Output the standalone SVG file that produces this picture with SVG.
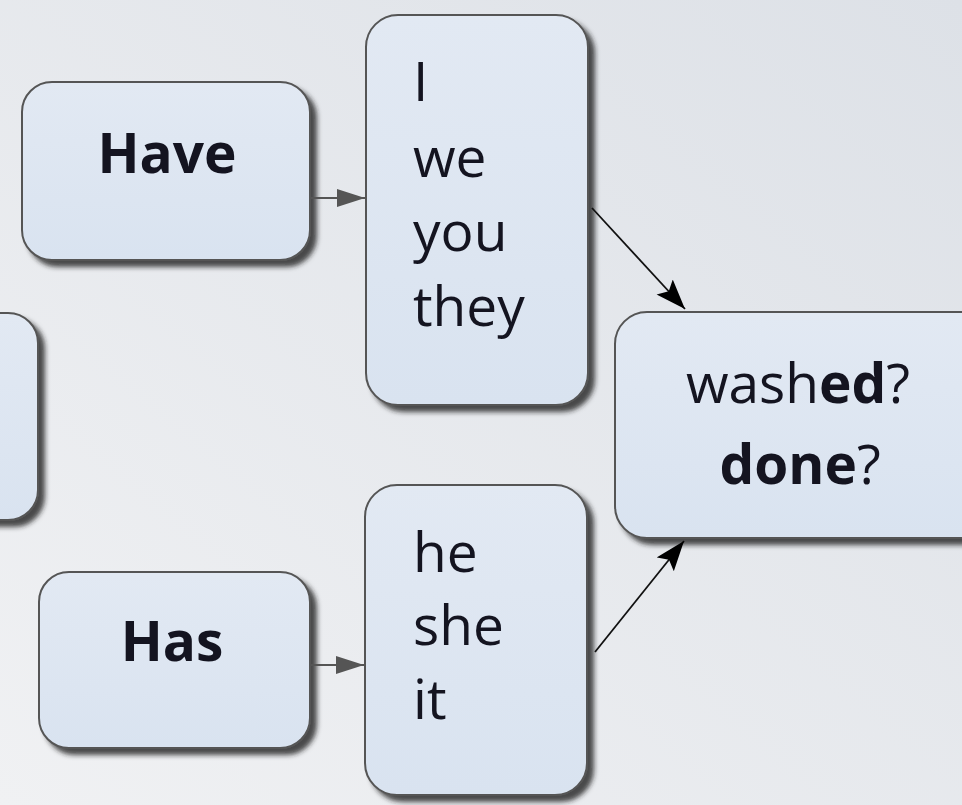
<svg xmlns="http://www.w3.org/2000/svg" width="962" height="805" viewBox="0 0 962 805">
<defs>
<linearGradient id="bg" x1="0" y1="1" x2="1" y2="0">
<stop offset="0" stop-color="#f0f1f3"/>
<stop offset="1" stop-color="#dde1e7"/>
</linearGradient>
<linearGradient id="boxfill" x1="0" y1="0" x2="0" y2="1">
<stop offset="0" stop-color="#e2e9f3"/>
<stop offset="1" stop-color="#d9e3f0"/>
</linearGradient>
<filter id="shadow" x="-10%" y="-10%" width="130%" height="130%">
<feDropShadow dx="6" dy="6" stdDeviation="2.5" flood-color="#222" flood-opacity="0.8"/>
</filter>
<marker id="grayhead" markerUnits="userSpaceOnUse" markerWidth="30" markerHeight="20" refX="28" refY="9" orient="auto">
<path d="M0,0 L28,9 L0,18 Z" fill="#555"/>
</marker>
<marker id="blackhead" markerUnits="userSpaceOnUse" markerWidth="32" markerHeight="24" refX="30" refY="11" orient="auto">
<path d="M0,0 L30,11 L0,22 L6,11 Z" fill="#000"/>
</marker>
</defs>
<style>
.box{fill:url(#boxfill);stroke:#555;stroke-width:2;filter:url(#shadow)}
.t{font-family:"Open Sans","Noto Sans",sans-serif;font-size:55px;fill:#141420}
.b{font-weight:bold}
.conn-gray{stroke:#555;stroke-width:2;fill:none}
.conn-black{stroke:#111;stroke-width:1.8;fill:none}
</style>
<rect x="0" y="0" width="962" height="805" fill="url(#bg)"/>

<g id="node-left">
<rect class="box" x="-60" y="313" width="98" height="207" rx="30"/>
</g>

<g id="node-have">
<rect class="box" x="22" y="82" width="288" height="178" rx="30"/>
<text class="t b" x="167" y="173" text-anchor="middle" font-size="62">Have</text>
</g>

<g id="node-has">
<rect class="box" x="39" y="572" width="271" height="176" rx="30"/>
<text class="t b" x="172" y="661" text-anchor="middle" font-size="62">Has</text>
</g>

<g id="node-iwe">
<rect class="box" x="366" y="15" width="222" height="390" rx="32"/>
<text class="t" x="413" y="101">I</text>
<text class="t" x="413" y="177">we</text>
<text class="t" x="413" y="251">you</text>
<text class="t" x="413" y="326">they</text>
</g>

<g id="node-heshe">
<rect class="box" x="365" y="485" width="222" height="310" rx="32"/>
<text class="t" x="413" y="572">he</text>
<text class="t" x="413" y="645">she</text>
<text class="t" x="413" y="719">it</text>
</g>

<g id="node-washed">
<rect class="box" x="615" y="312" width="380" height="226" rx="32"/>
<text class="t" x="798" y="403" text-anchor="middle" font-size="58">wash<tspan class="b">ed</tspan>?</text>
<text class="t" x="800" y="484" text-anchor="middle" font-size="58"><tspan class="b">done</tspan>?</text>
</g>

<g id="connectors">
<line class="conn-gray" x1="311" y1="198" x2="365" y2="198" marker-end="url(#grayhead)"/>
<line class="conn-gray" x1="311" y1="665" x2="364" y2="665" marker-end="url(#grayhead)"/>
<line class="conn-black" x1="592" y1="208" x2="685" y2="309" marker-end="url(#blackhead)"/>
<line class="conn-black" x1="595" y1="652" x2="684" y2="541" marker-end="url(#blackhead)"/>
</g>
</svg>
